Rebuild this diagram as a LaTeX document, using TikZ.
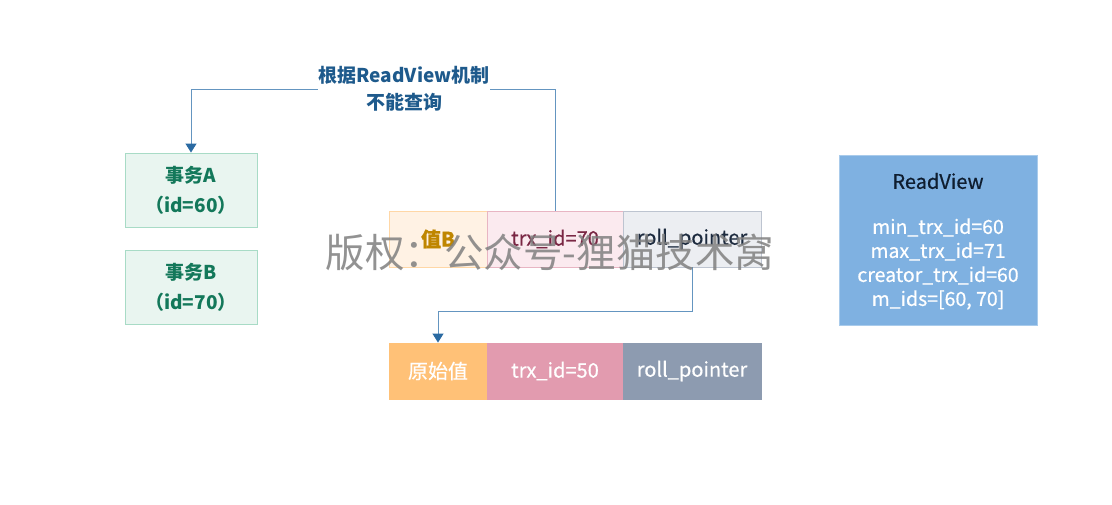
\documentclass[tikz,border=0pt]{standalone}
\usepackage{fontspec}
\setmainfont{Noto Sans CJK SC}
\newfontfamily\medfont[FakeBold=0.6]{Noto Sans CJK SC}
\usetikzlibrary{arrows.meta}
\definecolor{txgreen}{HTML}{13785A}
\definecolor{fillgreen}{HTML}{E9F5F0}
\definecolor{drawgreen}{HTML}{A8DBC6}
\definecolor{lineblue}{HTML}{6495C0}
\definecolor{tipblue}{HTML}{2A6AA2}
\definecolor{lblblue}{HTML}{1E5A8C}
\definecolor{oLightF}{HTML}{FFF2E4}
\definecolor{oLightD}{HTML}{FFD7A6}
\definecolor{oText}{HTML}{BF8600}
\definecolor{pLightF}{HTML}{FBEAEF}
\definecolor{pLightD}{HTML}{E8B5C3}
\definecolor{pText}{HTML}{7A2744}
\definecolor{gLightF}{HTML}{ECEEF2}
\definecolor{gLightD}{HTML}{BDC4D0}
\definecolor{gText}{HTML}{1C2A3E}
\definecolor{oDark}{HTML}{FFC177}
\definecolor{pDark}{HTML}{E29BAF}
\definecolor{gDark}{HTML}{8D9BB0}
\definecolor{rvFill}{HTML}{7FB1E1}
\definecolor{rvDraw}{HTML}{A9CBEB}
\definecolor{rvTitle}{HTML}{0F1E30}
\tikzset{
  txbox/.style={draw=drawgreen, fill=fillgreen, line width=0.9pt, minimum width=132pt, minimum height=74pt, inner sep=0pt, align=center, text=txgreen, font=\fontsize{19}{30}\selectfont\bfseries},
  cell/.style={line width=0.9pt, minimum height=56pt, inner sep=0pt, font=\fontsize{20}{22}\medfont},
  conn/.style={draw=lineblue, line width=1pt, -{Triangle[length=9pt,width=11pt,fill=tipblue,color=tipblue]}},
}
\begin{document}
\begin{tikzpicture}[x=1pt,y=-1pt]
\useasboundingbox (0,0) rectangle (1112,504);
\fill[white] (0,0) rectangle (1112,504);

% transactions
\node[txbox] (ta) at (191,190) {事务A\\（id=60）};
\node[txbox] (tb) at (191,287.5) {事务B\\（id=70）};

% top row (value B)
\node[cell, draw=oLightD, fill=oLightF, text=oText, minimum width=98pt] (vb) at (438,239) {\bfseries 值B};
\node[cell, draw=pLightD, fill=pLightF, text=pText, minimum width=136pt] (t70) at (555,239) {trx\_id=70};
\node[cell, draw=gLightD, fill=gLightF, text=gText, minimum width=138pt] (rp1) at (692,239) {roll\_pointer};

% bottom row (original value)
\node[cell, draw=oDark, fill=oDark, text=white, minimum width=98pt] (yv) at (438,371) {原始值};
\node[cell, draw=pDark, fill=pDark, text=white, minimum width=136pt] (t50) at (555,371) {trx\_id=50};
\node[cell, draw=gDark, fill=gDark, text=white, minimum width=138pt] (rp2) at (692,371) {roll\_pointer};

% ReadView
\node[draw=rvDraw, fill=rvFill, line width=0.9pt, minimum width=198pt, minimum height=170pt, inner sep=0pt] (rv) at (938,240) {};
\node[text=rvTitle, font=\fontsize{20}{22}\medfont] (rvt) at (938,181) {ReadView};
\node[text=white, align=center, font=\fontsize{19.5}{24}\medfont] (rvb) at (938,264) {min\_trx\_id=60\\max\_trx\_id=71\\creator\_trx\_id=60\\m\_ids=[60, 70]};

% connectors
\coordinate (c1) at (555,89);
\draw[conn] (t70.north) -- (c1) -| (ta.north);
\coordinate (c2) at (692,311);
\draw[conn] (rp1.south) -- (c2) -| (yv.north);

% label
\node[fill=white, inner sep=1pt, align=center, text=lblblue, font=\fontsize{19}{27}\selectfont\bfseries] (lbl) at (404,89) {根据ReadView机制\\不能查询};

% watermark
\node[text=black!50, opacity=0.85, font=\fontsize{39.5}{42}\selectfont] (wm) at (550,252) {版权：公众号-狸猫技术窝};
\end{tikzpicture}
\end{document}
